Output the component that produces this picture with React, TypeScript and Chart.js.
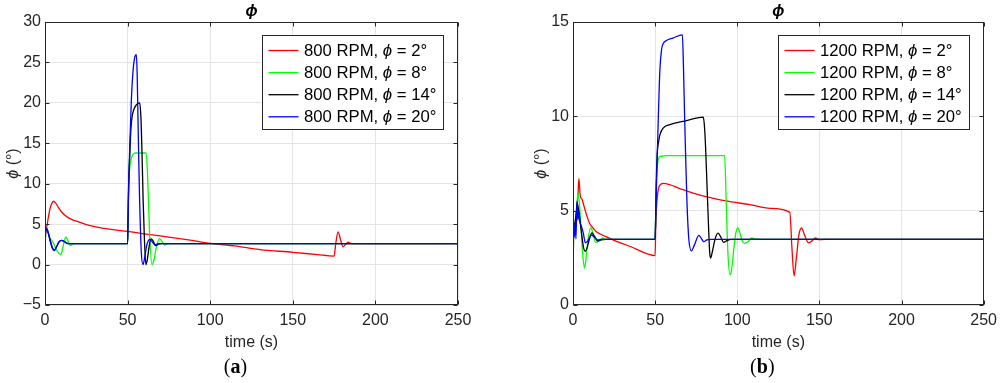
import React, { useEffect, useRef } from "react";
import { Chart, registerables } from "chart.js";

Chart.register(...registerables);

// ---------------- Panel (a): 800 RPM ----------------
const tA_2 = [0, 0.3, 1, 2, 3, 4, 5.2, 6.5, 8, 10, 13, 16, 20, 25, 30, 40, 50, 60, 75, 90, 100, 115, 130, 150, 165, 175, 176, 177.4, 179, 180.4, 182, 183.5, 185, 187, 190, 250];
const phiA_2 = [0, 3.6, 4.6, 5.8, 6.9, 7.5, 7.83, 7.6, 7.1, 6.5, 5.95, 5.6, 5.3, 4.95, 4.7, 4.35, 4.1, 3.8, 3.4, 2.95, 2.62, 2.3, 1.85, 1.52, 1.22, 1.05, 2.6, 4.04, 3.0, 2.19, 2.5, 2.76, 2.62, 2.58, 2.6, 2.6];

const tA_8 = [0, 0.3, 1, 2, 3, 5, 7, 8.5, 9.5, 10.5, 11.7, 12.7, 13.8, 15.3, 17, 19, 50, 50.3, 50.6, 51.5, 52.5, 54, 55, 61.2, 62, 62.7, 63.5, 64.8, 66, 67.5, 69.3, 71, 72.5, 74, 76, 250];
const phiA_8 = [0, 3.8, 4.4, 3.9, 3.3, 2.7, 1.8, 1.35, 1.24, 1.8, 2.9, 3.38, 3.0, 2.35, 2.55, 2.6, 2.6, 6.5, 9.7, 12.3, 13.3, 13.75, 13.8, 13.8, 11.5, 7.5, 3.0, 0, 0.6, 2.2, 3.2, 2.8, 2.4, 2.55, 2.6, 2.6];

const tA_14 = [0, 0.3, 1, 2, 3, 4.5, 5.5, 7, 8.5, 10, 12, 14, 16, 50, 50.3, 50.7, 51.3, 52, 53, 54.5, 56, 57.3, 58, 58.7, 59.4, 60.2, 61.1, 62, 63, 64.2, 65.5, 67, 69, 71, 250];
const phiA_14 = [0, 3.9, 4.4, 3.9, 3.1, 2.1, 1.8, 2.2, 2.8, 3.0, 2.8, 2.6, 2.6, 2.6, 6.0, 10.5, 13.5, 16.8, 18.6, 19.5, 19.9, 20.0, 18.5, 14.0, 8.0, 3.0, 0, 0.7, 2.2, 3.17, 2.9, 2.35, 2.55, 2.6, 2.6];

const tA_20 = [0, 0.3, 1, 2, 3, 4.5, 5.6, 7, 8.5, 10, 12, 14, 16, 50, 50.3, 50.7, 51.2, 52.2, 53.2, 54.2, 55.3, 55.8, 56.3, 56.8, 57.3, 57.8, 58.3, 59.3, 60.3, 61.5, 63.3, 65, 66.5, 68, 70, 250];
const phiA_20 = [0, 3.9, 4.5, 3.9, 3.0, 2.0, 1.73, 2.2, 2.8, 3.0, 2.8, 2.6, 2.6, 2.6, 6.0, 10.0, 13.85, 20.0, 23.7, 25.5, 25.95, 23.5, 17.9, 12.5, 7.7, 4.2, 1.5, 0, 0.8, 2.3, 3.1, 2.8, 2.45, 2.55, 2.6, 2.6];

// ---------------- Panel (b): 1200 RPM ----------------
const tB_2 = [0, 0.3, 1, 2, 3, 3.6, 4.4, 5.5, 6.5, 8, 10, 12, 14, 17, 20, 25, 35, 50, 50.4, 50.9, 51.9, 53.5, 55, 67, 79, 95, 107.5, 120, 132, 133.3, 134.6, 136, 137.5, 139.1, 141, 143.4, 145.5, 147.5, 150, 153, 250];
const phiB_2 = [0, 3.5, 4.0, 4.8, 5.8, 6.7, 5.8, 5.6, 5.3, 4.85, 4.35, 4.1, 3.9, 3.75, 3.62, 3.43, 3.1, 2.62, 4.3, 5.22, 6.11, 6.4, 6.45, 6.11, 5.79, 5.49, 5.32, 5.12, 4.91, 3.0, 1.55, 2.5, 3.7, 4.08, 3.7, 3.29, 3.4, 3.55, 3.46, 3.48, 3.48];

const tB_8 = [0, 0.3, 1, 2, 3.1, 4, 5, 6, 7, 8, 9, 10.9, 12.3, 13.8, 16, 18, 20, 50, 50.4, 50.9, 51.9, 52.9, 55, 57, 92.3, 93.3, 94.3, 95.6, 96.5, 97.7, 98.9, 100.3, 101.7, 103, 104.4, 106.5, 108.8, 111, 114, 250];
const phiB_8 = [0, 3.6, 4.3, 4.9, 5.95, 5.3, 3.9, 2.6, 1.96, 2.5, 3.4, 4.1, 3.75, 3.32, 3.4, 3.55, 3.48, 3.48, 5.2, 6.8, 7.7, 7.87, 7.9, 7.92, 7.92, 5.4, 2.77, 1.6, 1.85, 2.8, 3.7, 4.08, 3.8, 3.4, 3.27, 3.35, 3.55, 3.5, 3.48, 3.48];

const tB_14 = [0, 0.3, 1, 2, 2.5, 3.5, 4.5, 5.5, 6.5, 7.5, 8.5, 10, 11.5, 13, 15, 17, 20, 50, 50.3, 50.7, 51.3, 52, 52.9, 54.9, 59, 67, 79.3, 80, 80.8, 81.6, 82.5, 83.2, 83.8, 85, 86.5, 88.3, 90, 91.7, 93.5, 96, 250];
const phiB_14 = [0, 4.0, 4.3, 4.9, 5.4, 5.0, 4.3, 3.6, 3.0, 2.85, 3.0, 3.5, 3.82, 3.65, 3.4, 3.45, 3.48, 3.48, 4.5, 6.5, 8.07, 8.6, 9.02, 9.38, 9.56, 9.73, 9.96, 9.5, 8.2, 6.29, 4.2, 2.8, 2.49, 2.9, 3.5, 3.81, 3.6, 3.32, 3.4, 3.48, 3.48];

const tB_20 = [0, 0.3, 0.8, 1.3, 1.8, 2.4, 3, 3.5, 4.2, 5, 6.3, 7.5, 9, 11, 13, 15, 18, 50, 50.3, 51, 51.9, 52.9, 53.9, 54.9, 56.9, 60.9, 66.6, 67.2, 68, 68.7, 69.4, 70.5, 72.1, 74, 76.6, 78, 79.6, 81.5, 84, 250];
const phiB_20 = [0, 4.2, 3.6, 4.4, 3.5, 5.5, 4.5, 5.0, 4.4, 4.2, 3.8, 3.3, 3.4, 3.7, 3.6, 3.45, 3.48, 3.48, 4.5, 7.0, 9.82, 12.47, 13.53, 13.85, 14.02, 14.15, 14.32, 12.8, 9.8, 7.5, 5.4, 3.5, 2.87, 3.2, 3.69, 3.55, 3.35, 3.45, 3.48, 3.48];

// ---------------- Labels / ticks ----------------
const rpmA = 800;
const rpmB = 1200;
const phiSetpoints = [2, 8, 14, 20];
const seriesColors = ["#ff0000", "#00ff00", "#000000", "#0000ff"];
const xMin = 0;
const xMax = 250;
const xStep = 50;
const yRangeA = [-5, 30];
const yRangeB = [0, 15];
const yStep = 5;
const titleText = "ϕ";
const xLabel = "time (s)";
const yLabel = "ϕ (°)";

const FONT = "'Liberation Sans', Arial, Helvetica, sans-serif";
const SERIF = "'Liberation Serif', 'Times New Roman', serif";
const AXIS = "#262626";
const LEGEND_SIZE = 16.7;

type Run = { text: string; italic?: boolean; bold?: boolean; family?: string };

function runFont(r: Run, size: number) {
  return `${r.italic ? "italic " : ""}${r.bold ? "bold " : ""}${size}px ${r.family ?? FONT}`;
}
function splitPhi(s: string): Run[] {
  const runs: Run[] = [];
  s.split("ϕ").forEach((p, i) => {
    if (i > 0) runs.push({ text: "ϕ", italic: true });
    if (p) runs.push({ text: p });
  });
  return runs;
}
function measureRuns(ctx: CanvasRenderingContext2D, runs: Run[], size: number) {
  let w = 0;
  for (const r of runs) {
    ctx.font = runFont(r, size);
    w += ctx.measureText(r.text).width;
  }
  return w;
}
function drawRuns(ctx: CanvasRenderingContext2D, runs: Run[], x: number, y: number, size: number) {
  ctx.textAlign = "left";
  ctx.textBaseline = "middle";
  let cx = x;
  for (const r of runs) {
    ctx.font = runFont(r, size);
    ctx.fillText(r.text, cx, y);
    cx += ctx.measureText(r.text).width;
  }
}

function makeOverlay(labels: string[], panel: string) {
  return {
    id: "overlay",
    afterDraw(chart: any) {
      const { ctx, chartArea: a, scales } = chart;
      ctx.save();
      const L = Math.round(a.left) + 0.5;
      const R = Math.round(a.right) - 0.5;
      const T = Math.round(a.top) + 0.5;
      const B = Math.round(a.bottom) - 0.5;
      ctx.strokeStyle = AXIS;
      ctx.lineWidth = 1;
      ctx.strokeRect(L, T, R - L, B - T);
      const tl = 4;
      ctx.beginPath();
      for (const tk of scales.x.ticks) {
        const px = Math.round(scales.x.getPixelForValue(tk.value)) + 0.5;
        ctx.moveTo(px, B);
        ctx.lineTo(px, B - tl);
        ctx.moveTo(px, T);
        ctx.lineTo(px, T + tl);
      }
      for (const tk of scales.y.ticks) {
        const py = Math.round(scales.y.getPixelForValue(tk.value)) + 0.5;
        ctx.moveTo(L, py);
        ctx.lineTo(L + tl, py);
        ctx.moveTo(R, py);
        ctx.lineTo(R - tl, py);
      }
      ctx.stroke();

      const cx = (a.left + a.right) / 2;
      const cy = (a.top + a.bottom) / 2;

      // title
      ctx.fillStyle = "#000";
      const tRuns: Run[] = [{ text: titleText, italic: true, bold: true }];
      const tw = measureRuns(ctx, tRuns, 16);
      drawRuns(ctx, tRuns, cx - tw / 2, 12, 16);

      // y label
      ctx.fillStyle = AXIS;
      const yRuns = splitPhi(yLabel);
      const yw = measureRuns(ctx, yRuns, 16);
      ctx.save();
      ctx.translate(a.left - 31, cy);
      ctx.rotate(-Math.PI / 2);
      drawRuns(ctx, yRuns, -yw / 2, 0, 16);
      ctx.restore();

      // panel label
      ctx.fillStyle = "#000";
      const pRuns: Run[] = [
        { text: "(", family: SERIF },
        { text: panel, bold: true, family: SERIF },
        { text: ")", family: SERIF },
      ];
      const pw = measureRuns(ctx, pRuns, 20);
      drawRuns(ctx, pRuns, cx - 16 - pw / 2, 368, 20);

      // legend
      const runsList = labels.map(splitPhi);
      let maxW = 0;
      for (const r of runsList) maxW = Math.max(maxW, measureRuns(ctx, r, LEGEND_SIZE));
      const bw = Math.round(41.5 + maxW + 7.5);
      const bh = 94;
      const bx = Math.round(a.right - 15 - bw) + 0.5;
      const by = Math.round(a.top + 12.5) + 0.5;
      ctx.fillStyle = "#fff";
      ctx.fillRect(bx, by, bw, bh);
      ctx.strokeStyle = AXIS;
      ctx.lineWidth = 1;
      ctx.strokeRect(bx, by, bw, bh);
      runsList.forEach((runs, i) => {
        const ry = by + 15 + i * 22.1;
        ctx.strokeStyle = seriesColors[i];
        ctx.lineWidth = 1.3;
        ctx.beginPath();
        ctx.moveTo(bx + 6, ry);
        ctx.lineTo(bx + 36, ry);
        ctx.stroke();
        ctx.fillStyle = "#000";
        drawRuns(ctx, runs, bx + 41.5, ry + 0.5, LEGEND_SIZE);
      });
      ctx.restore();
    },
  };
}

function toXY(t: number[], v: number[]) {
  return t.map((x, i) => ({ x, y: v[i] }));
}

function buildConfig(
  series: [number[], number[]][],
  labels: string[],
  yRange: number[],
  yAxisWidth: number,
  padRight: number,
  panel: string
): any {
  const orders = [4, 3, 2, 1];
  return {
    type: "line",
    data: {
      datasets: series.map(([t, v], i) => ({
        label: labels[i],
        data: toXY(t, v),
        borderColor: seriesColors[i],
        backgroundColor: seriesColors[i],
        borderWidth: 1.3,
        pointRadius: 0,
        fill: false,
        cubicInterpolationMode: "monotone",
        order: orders[i],
      })),
    },
    options: {
      responsive: false,
      animation: false,
      devicePixelRatio: 1,
      events: [],
      layout: { padding: { left: 0, top: 22, right: padRight, bottom: 0 } },
      plugins: {
        legend: { display: false },
        tooltip: { enabled: false },
        title: { display: false },
      },
      scales: {
        x: {
          type: "linear",
          min: xMin,
          max: xMax,
          ticks: {
            stepSize: xStep,
            color: AXIS,
            font: { family: FONT, size: 16 },
            padding: 6,
            maxRotation: 0,
            autoSkip: false,
          },
          grid: { color: "#e4e4e4", drawTicks: false, lineWidth: 1 },
          border: { display: false },
          title: {
            display: true,
            text: xLabel,
            color: AXIS,
            font: { family: FONT, size: 16 },
            padding: { top: 0, bottom: 31 },
          },
          afterFit: (s: any) => {
            s.height = 78;
          },
        },
        y: {
          type: "linear",
          min: yRange[0],
          max: yRange[1],
          ticks: {
            stepSize: yStep,
            color: AXIS,
            font: { family: FONT, size: 16 },
            padding: 4,
            callback: (val: any) => (Number(val) < 0 ? "\u2212" + Math.abs(Number(val)) : String(val)),
          },
          grid: { color: "#e4e4e4", drawTicks: false, lineWidth: 1 },
          border: { display: false },
          afterFit: (s: any) => {
            s.width = yAxisWidth;
          },
        },
      },
    },
    plugins: [makeOverlay(labels, panel)],
  };
}

export default function App() {
  const refA = useRef<HTMLCanvasElement | null>(null);
  const refB = useRef<HTMLCanvasElement | null>(null);

  useEffect(() => {
    const labelsA = phiSetpoints.map((p) => `${rpmA} RPM, ϕ = ${p}°`);
    const labelsB = phiSetpoints.map((p) => `${rpmB} RPM, ϕ = ${p}°`);
    const chartA = new Chart(
      refA.current as HTMLCanvasElement,
      buildConfig(
        [
          [tA_2, phiA_2],
          [tA_8, phiA_8],
          [tA_14, phiA_14],
          [tA_20, phiA_20],
        ],
        labelsA,
        yRangeA,
        45,
        42,
        "a"
      )
    );
    const chartB = new Chart(
      refB.current as HTMLCanvasElement,
      buildConfig(
        [
          [tB_2, phiB_2],
          [tB_8, phiB_8],
          [tB_14, phiB_14],
          [tB_20, phiB_20],
        ],
        labelsB,
        yRangeB,
        73,
        18,
        "b"
      )
    );
    return () => {
      chartA.destroy();
      chartB.destroy();
    };
  }, []);

  return (
    <div style={{ position: "absolute", left: 0, top: 0, width: 1003, height: 383, background: "#fff" }}>
      <canvas
        ref={refA}
        width={500}
        height={383}
        style={{ position: "absolute", left: 0, top: 0, width: 500, height: 383 }}
      />
      <canvas
        ref={refB}
        width={503}
        height={383}
        style={{ position: "absolute", left: 500, top: 0, width: 503, height: 383 }}
      />
    </div>
  );
}
